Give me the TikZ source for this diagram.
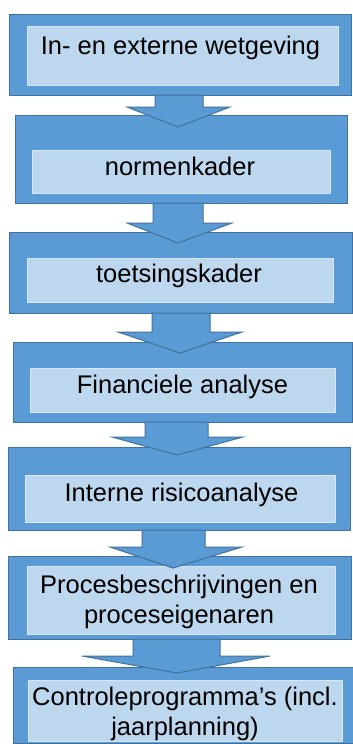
\documentclass[tikz,border=0pt]{standalone}
\usepackage{fontspec}
\setmainfont{Liberation Sans}
\usetikzlibrary{fit}
\definecolor{boxblue}{HTML}{5B9BD5}
\definecolor{edgeblue}{HTML}{41719C}
\definecolor{paneblue}{HTML}{BDD7EE}
\definecolor{paneedge}{HTML}{D9E7F5}
\tikzset{
  outerbox/.style={draw=edgeblue, fill=boxblue, line width=1pt, inner sep=0pt, outer sep=0pt},
  innerbox/.style={draw=paneedge, fill=paneblue, line width=0.6pt, inner sep=0pt, outer sep=0pt},
  flowarrow/.style={draw=edgeblue, fill=boxblue, line width=1pt, line join=miter},
  lbl/.style={font=\fontsize{25.5}{29.5}\selectfont, text=black, align=center, inner sep=0pt, anchor=base},
}
% block arrow: shaft from the bottom of box #1, shaft x #2..#3, head base y #4,
% head x #5..#6, tip at (#8,#7)
\newcommand{\blockarrow}[8]{%
  \draw[flowarrow] (#2,0 |- #1.south) -- (#2,#4) -- (#5,#4) -- (#8,#7)
    -- (#6,#4) -- (#3,#4) -- (#3,0 |- #1.south) -- cycle;}
\begin{document}
\begin{tikzpicture}[x=1pt, y=-1pt]
  \useasboundingbox (0,0) rectangle (353,744);
  \clip (0,0) rectangle (353,744);
  \fill[white] (0,0) rectangle (353,744);

  % stages of the flow, top to bottom (two-line labels sit on their last baseline)
  \node[outerbox, fit={(9,14)(351,95)}] (b1) {};
  \node[innerbox, fit={(27,26)(338,85)}] (p1) {};
  \node[lbl] (t1) at (180.5,54) {In- en externe wetgeving};

  \node[outerbox, fit={(15,115)(347,203)}] (b2) {};
  \node[innerbox, fit={(32,150)(330,193)}] (p2) {};
  \node[lbl] (t2) at (180,175) {normenkader};

  \node[outerbox, fit={(9,232)(352,313)}] (b3) {};
  \node[innerbox, fit={(27,258)(333,302)}] (p3) {};
  \node[lbl] (t3) at (179,282) {toetsingskader};

  \node[outerbox, fit={(13,342)(352,422)}] (b4) {};
  \node[innerbox, fit={(30,368)(335,412)}] (p4) {};
  \node[lbl] (t4) at (182.5,393) {Financiele analyse};

  \node[outerbox, fit={(8,447)(350,530)}] (b5) {};
  \node[innerbox, fit={(25,475)(335,522)}] (p5) {};
  \node[lbl] (t5) at (181.5,501) {Interne risicoanalyse};

  \node[outerbox, fit={(8,556)(351,639)}] (b6) {};
  \node[innerbox, fit={(27,566)(335,634)}] (p6) {};
  \node[lbl] (t6) at (179,623) {Procesbeschrijvingen en\\proceseigenaren};

  \node[outerbox, fit={(13,667)(362,743.5)}] (b7) {};
  \node[innerbox, fit={(28,680)(342,741)}] (p7) {};
  \node[lbl] (t7) at (185,735) {Controleprogramma’s (incl.\\jaarplanning)};

  % arrows between the stages
  \blockarrow{b1}{155}{203}{107}{127}{230}{127}{178}
  \blockarrow{b2}{153}{203}{223}{127}{232}{243}{178}
  \blockarrow{b3}{152}{210}{332}{118}{242}{353}{180}
  \blockarrow{b4}{145}{208}{437}{112}{243}{455}{177}
  \blockarrow{b5}{142}{205}{547}{110}{242}{568}{173}
  \blockarrow{b6}{133}{220}{656}{82}{270}{673}{177}
\end{tikzpicture}
\end{document}
